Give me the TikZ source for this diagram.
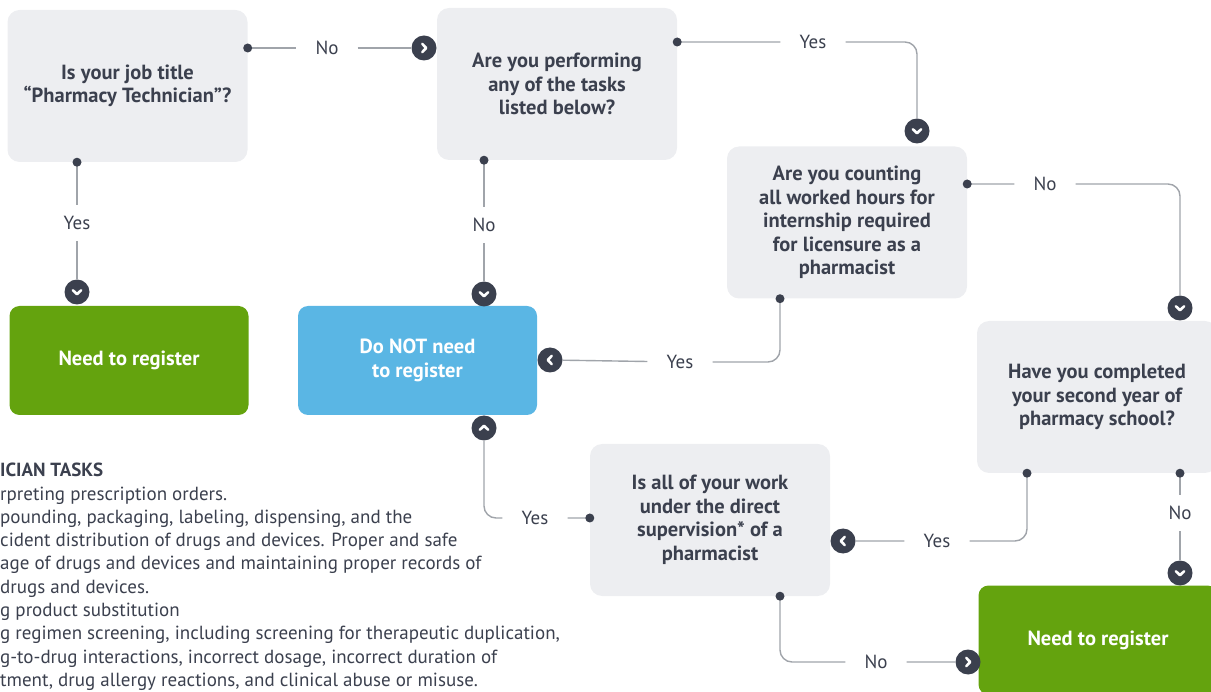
\documentclass[tikz,border=0pt]{standalone}
\usepackage{fontspec}
\setmainfont{PT Sans}
\definecolor{boxgray}{RGB}{237,238,241}
\definecolor{ink}{RGB}{59,64,78}
\definecolor{wiregray}{RGB}{160,164,170}
\definecolor{okgreen}{RGB}{100,163,14}
\definecolor{skyblue}{RGB}{90,182,228}
\tikzset{
  question/.style={fill=boxgray, rounded corners=12pt, minimum width=240pt, minimum height=152pt,
    align=center, text=ink, font=\bfseries\fontsize{20.5}{23.5}\selectfont},
  answer/.style={fill=#1, rounded corners=10pt, minimum width=239pt, minimum height=109pt,
    align=center, text=white, font=\bfseries\fontsize{20.5}{23.5}\selectfont},
  lab/.style={text=ink, font=\fontsize{19}{20}\selectfont, inner xsep=19pt, inner ysep=11pt},
  wire/.style={draw=wiregray, line width=1.4pt, rounded corners=12pt},
  turn/.style={circle, fill=ink, minimum size=25pt, inner sep=0pt,
    path picture={\draw[white, line width=2.6pt, line cap=round, line join=round,
      shift={(path picture bounding box.center)}] #1;}},
  go right/.style={turn={(-1.8,-4.2) -- (2.2,0) -- (-1.8,4.2)}},
  go left/.style={turn={(1.8,-4.2) -- (-2.2,0) -- (1.8,4.2)}},
  go down/.style={turn={(-4.2,-1.8) -- (0,2.2) -- (4.2,-1.8)}},
  go up/.style={turn={(-4.2,1.8) -- (0,-2.2) -- (4.2,1.8)}},
}
\begin{document}
\begin{tikzpicture}[x=1pt,y=-1pt]
  \useasboundingbox (0,0) rectangle (1211,692);

  % question boxes
  \node[question] (q1) at (127.5,86) {Is your job title\\``Pharmacy Technician''?};
  \node[question] (q2) at (557,84) {Are you performing\\any of the tasks\\listed below?};
  \node[question] (q3) at (847,222.5) {Are you counting\\all worked hours for\\internship required\\for licensure as a\\pharmacist};
  \node[question] (q4) at (1097,397) {Have you completed\\your second year of\\pharmacy school?};
  \node[question] (q5) at (710,520) {Is all of your work\\under the direct\\supervision* of a\\pharmacist};

  % outcomes
  \node[answer=okgreen] (r1) at (129,360.5) {Need to register};
  \node[answer=skyblue] (r2) at (417.5,360.5) {Do NOT need\\to register};
  \node[answer=okgreen] (r3) at (1098,640) {Need to register};

  % arrow heads
  \node[go right] (a12) at (424,48) {};
  \node[go down] (a23) at (917,131) {};
  \node[go down] (a1r) at (77,292) {};
  \node[go down] (a2r) at (484,294) {};
  \node[go left] (a3r) at (550,360) {};
  \node[go down] (a34) at (1180,308) {};
  \node[go left] (a45) at (843,541) {};
  \node[go down] (a4r) at (1180,573) {};
  \node[go up] (a5r) at (484,428) {};
  \node[go right] (a53) at (968,662) {};

  % answers on the lines
  \node[lab] (no12) at (327,48) {No};
  \node[lab] (yes23) at (813,42) {Yes};
  \node[lab] (yes1) at (77,223) {Yes};
  \node[lab] (no2) at (484,225) {No};
  \node[lab] (yes3) at (680,362) {Yes};
  \node[lab] (no34) at (1045,184) {No};
  \node[lab] (yes45) at (937,541) {Yes};
  \node[lab] (no4) at (1180,513) {No};
  \node[lab] (yes5) at (535,518) {Yes};
  \node[lab] (no5) at (876,662) {No};

  % where the lines leave the boxes
  \coordinate (d12) at (q1.east |- a12);
  \coordinate (d23) at (q2.east |- yes23);
  \coordinate (d1r) at (q1.south -| yes1);
  \coordinate (d2r) at (q2.south -| no2);
  \coordinate (d3r) at ([xshift=-67pt]q3.south);
  \coordinate (d34) at (q3.east |- no34);
  \coordinate (d45) at ([xshift=-70pt]q4.south);
  \coordinate (d4r) at (q4.south -| no4);
  \coordinate (d5r) at (q5.west |- yes5);
  \coordinate (d53) at ([xshift=70pt]q5.south);

  \draw[wire] (d12) -- (no12) -- (a12);
  \draw[wire] (d23) -- (yes23) -| (a23);
  \draw[wire] (d1r) -- (yes1) -- (a1r);
  \draw[wire] (d2r) -- (no2) -- (a2r);
  \draw[wire] (d3r) |- (yes3) -- (a3r);
  \draw[wire] (d34) -- (no34) -| (a34);
  \draw[wire] (d45) |- (yes45) -- (a45);
  \draw[wire] (d4r) -- (no4) -- (a4r);
  \draw[wire] (d5r) -- (yes5) -| (a5r);
  \draw[wire] (d53) |- (no5) -- (a53);
  \foreach \d in {d12,d23,d1r,d2r,d3r,d34,d45,d4r,d5r,d53}
    \fill[ink] (\d) circle (4.5pt);

  % task list
  \node[anchor=north west, align=left, inner sep=0pt, text=ink, font=\fontsize{19}{23.3}\selectfont] (tasks) at (0,463)
    {\textbf{ICIAN TASKS}\\
     rpreting prescription orders.\\
     pounding, packaging, labeling, dispensing, and the\\
     cident distribution of drugs and devices. Proper and safe\\
     age of drugs and devices and maintaining proper records of\\
     drugs and devices.\\
     g product substitution\\
     g regimen screening, including screening for therapeutic duplication,\\
     g-to-drug interactions, incorrect dosage, incorrect duration of\\
     tment, drug allergy reactions, and clinical abuse or misuse.};
\end{tikzpicture}
\end{document}
